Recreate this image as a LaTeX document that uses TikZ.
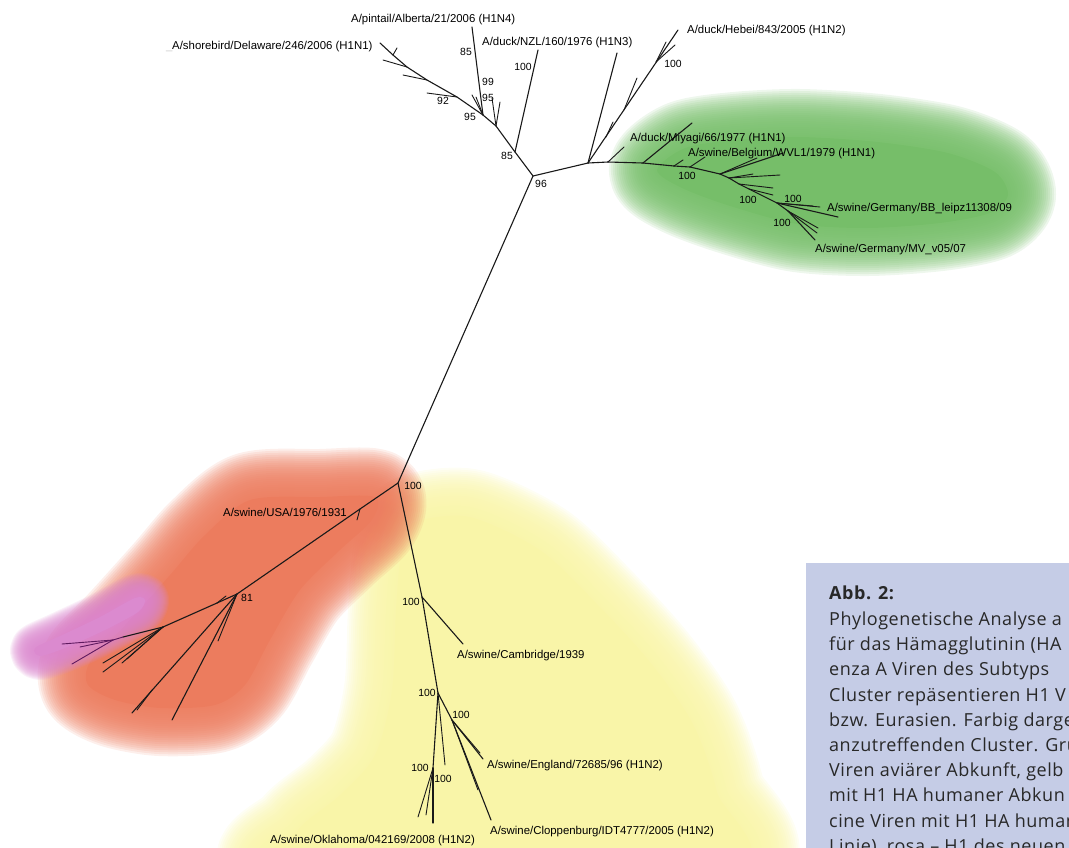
\documentclass[tikz,border=0pt]{standalone}
\usepackage{fontspec}
\setmainfont{Liberation Sans}
\newfontfamily\capfont[LetterSpace=3]{Open Sans}
\usepackage{tikz}

\definecolor{avian}{RGB}{118,190,105}
\definecolor{classical}{RGB}{236,124,94}
\definecolor{pandemic}{RGB}{219,138,207}
\definecolor{humanlike}{RGB}{249,245,168}
\definecolor{capbox}{RGB}{197,204,230}
\definecolor{captext}{RGB}{40,40,40}
\definecolor{pinktwig}{RGB}{95,25,95}

% soft edged colour cloud behind a cluster, #1 = width of the blur step
\newcommand{\softblob}[3][4]{%
  \foreach \w in {24,23,...,1}
    \draw[#2,line width=#1*\w pt,opacity=0.12,line join=round] plot[smooth cycle] coordinates {#3};
  \fill[#2] plot[smooth cycle] coordinates {#3};}

\begin{document}
\begin{tikzpicture}[x=1pt,y=-1pt,branch/.style={line width=1.1pt,draw=black!90,line cap=round},twig/.style={line width=0.9pt,draw=black!90,line cap=round},purpletwig/.style={line width=0.9pt,draw=pinktwig,line cap=round},strain/.style={anchor=base west,inner sep=0pt,font=\fontsize{11.4}{13}\selectfont},boot/.style={inner sep=0pt,font=\fontsize{10.4}{12}\selectfont},capline/.style={anchor=base west,inner sep=0pt,text=captext,font=\capfont\fontsize{18}{22}\selectfont}]
\useasboundingbox (0,0) rectangle (1069,847);
\clip (0,0) rectangle (1069,847);

% clusters
\softblob{humanlike}{(415,522) (470,517) (540,550) (596,603) (650,662) (693,724) (717,792) (727,870) (290,870) (298,830) (340,795) (375,755) (392,690) (396,610) (402,545)}
\softblob{classical}{(250,500) (320,497) (375,497) (372,520) (340,550) (300,590) (270,640) (245,685) (215,705) (160,708) (115,700) (88,685) (90,662) (125,625) (170,575) (205,535)}
\softblob[2]{pandemic}{(35,648) (60,636) (100,617) (135,598) (145,600) (138,612) (105,630) (65,648) (40,656)}
\softblob{avian}{(657,170) (685,148) (735,140) (800,137) (878,142) (948,153) (995,172) (1008,195) (990,213) (940,223) (868,228) (797,224) (730,206) (682,188)}

% inner nodes
\coordinate (root) at (533,176);
\coordinate (a85) at (515,152);
\coordinate (a2) at (496,126);
\coordinate (a95) at (483,115);
\coordinate (a92) at (457,97);
\coordinate (a4) at (427,80);
\coordinate (a5) at (407,67);
\coordinate (a6) at (393,55);
\coordinate (q) at (588,163);
\coordinate (hb1) at (656,62);
\coordinate (hb2) at (624,110);
\coordinate (hb3) at (606,137);
\coordinate (gq) at (608,162);
\coordinate (g1) at (643,163);
\coordinate (gt) at (674,166);
\coordinate (g2) at (690,167);
\coordinate (g3) at (720,174);
\coordinate (g3b) at (729,178);
\coordinate (g3c) at (739,184);
\coordinate (g3d) at (749,189);
\coordinate (g4) at (777,203);
\coordinate (g5) at (788,211);
\coordinate (swn) at (398,483);
\coordinate (c1) at (360,509);
\coordinate (c81) at (237,594);
\coordinate (c2) at (217,603);
\coordinate (c3) at (163,627);
\coordinate (p0) at (123,637);
\coordinate (p1) at (113,640);
\coordinate (l1m) at (152,690);
\coordinate (y1) at (422,597);
\coordinate (y2) at (438,693);
\coordinate (y3) at (452,720);
\coordinate (y4) at (433,768);

% tips
\coordinate (shore) at (380,43);
\coordinate (pintail) at (472,27);
\coordinate (nzl) at (538,50);
\coordinate (t1) at (383,60);
\coordinate (t2) at (403,75);
\coordinate (t3) at (427,93);
\coordinate (t4) at (397,48);
\coordinate (t5) at (472,95);
\coordinate (t6) at (476,97);
\coordinate (t7) at (492,98);
\coordinate (t8) at (500,102);
\coordinate (hebei) at (678,30);
\coordinate (h1) at (675,45);
\coordinate (h2) at (666,42);
\coordinate (h3) at (637,78);
\coordinate (h4) at (613,122);
\coordinate (lone) at (617,53);
\coordinate (miyagi) at (692,123);
\coordinate (m1) at (624,147);
\coordinate (m2) at (683,160);
\coordinate (m3) at (705,157);
\coordinate (belgium) at (783,153);
\coordinate (e1) at (757,158);
\coordinate (e2) at (780,175);
\coordinate (e3) at (753,174);
\coordinate (e4) at (773,188);
\coordinate (e5) at (773,195);
\coordinate (bb) at (838,217);
\coordinate (b1) at (820,207);
\coordinate (b2) at (813,206);
\coordinate (mv) at (815,240);
\coordinate (v1) at (818,228);
\coordinate (v2) at (817,233);
\coordinate (usa1) at (357,520);
\coordinate (o1) at (226,596);
\coordinate (f1) at (103,663);
\coordinate (f2) at (103,672);
\coordinate (f3) at (122,663);
\coordinate (f4) at (127,659);
\coordinate (k1) at (62,644);
\coordinate (k2) at (80,647);
\coordinate (k3) at (72,664);
\coordinate (l1) at (132,713);
\coordinate (l2) at (172,720);
\coordinate (l3) at (218,641);
\coordinate (l4) at (137,710);
\coordinate (cambridge) at (463,644);
\coordinate (england) at (483,759);
\coordinate (n1) at (480,753);
\coordinate (clop) at (491,820);
\coordinate (n2) at (478,790);
\coordinate (n3) at (445,765);
\coordinate (okla) at (433,823);
\coordinate (n4) at (418,817);
\coordinate (n5) at (426,815);

% avian backbone, upper left
\draw[branch] (root) -- (a85);
\draw[branch] (a85) -- (a2);
\draw[branch] (a2) -- (a95);
\draw[branch] (a95) -- (a92);
\draw[branch] (a92) -- (a4);
\draw[branch] (a4) -- (a5);
\draw[branch] (a5) -- (a6);
\draw[branch] (a6) -- (shore);
\draw[branch] (a95) -- (pintail);
\draw[branch] (a85) -- (nzl);
\draw[twig] (a5) -- (t1);
\draw[twig] (a4) -- (t2);
\draw[twig] (a92) -- (t3);
\draw[twig] (a6) -- (t4);
\draw[twig] (a95) -- (t5);
\draw[twig] (a95) -- (t6);
\draw[twig] (a2) -- (t7);
\draw[twig] (a2) -- (t8);

% avian, upper right and green cluster
\draw[branch] (root) -- (q);
\draw[branch] (q) -- (hebei);
\draw[twig] (hb1) -- (h1);
\draw[twig] (hb1) -- (h2);
\draw[twig] (hb2) -- (h3);
\draw[twig] (hb3) -- (h4);
\draw[branch] (q) -- (lone);
\draw[branch] (q) -- (gq);
\draw[branch] (gq) -- (g1);
\draw[branch] (g1) -- (gt);
\draw[branch] (gt) -- (g2);
\draw[branch] (g2) -- (g3);
\draw[branch] (g3) -- (g3b);
\draw[branch] (g3b) -- (g3c);
\draw[branch] (g3c) -- (g3d);
\draw[branch] (g3d) -- (g4);
\draw[twig] (gq) -- (m1);
\draw[branch] (g1) -- (miyagi);
\draw[twig] (gt) -- (m2);
\draw[twig] (g2) -- (m3);
\draw[branch] (g3) -- (belgium);
\draw[twig] (g3) -- (e1);
\draw[twig] (g3b) -- (e2);
\draw[twig] (g3b) -- (e3);
\draw[twig] (g3c) -- (e4);
\draw[twig] (g3d) -- (e5);
\draw[branch] (g4) -- (bb);
\draw[twig] (g4) -- (b1);
\draw[twig] (g4) -- (b2);
\draw[branch] (g4) -- (g5);
\draw[branch] (g5) -- (mv);
\draw[twig] (g5) -- (v1);
\draw[twig] (g5) -- (v2);

% long branch to the swine clusters
\draw[branch] (root) -- (swn);

% classical swine, red and pink
\draw[branch] (swn) -- (c1);
\draw[branch] (c1) -- (c81);
\draw[twig] (c1) -- (usa1);
\draw[branch] (c81) -- (c2);
\draw[branch] (c2) -- (c3);
\draw[twig] (c2) -- (o1);
\draw[twig] (c3) -- (f1);
\draw[twig] (c3) -- (f2);
\draw[twig] (c3) -- (f3);
\draw[twig] (c3) -- (f4);
\draw[branch] (c3) -- (p0);
\draw[purpletwig] (p0) -- (p1);
\draw[purpletwig] (p1) -- (k1);
\draw[purpletwig] (p1) -- (k2);
\draw[purpletwig] (p1) -- (k3);
\draw[branch] (c81) -- (l1);
\draw[branch] (c81) -- (l2);
\draw[twig] (c81) -- (l3);
\draw[twig] (l1m) -- (l4);

% human-like swine, yellow
\draw[branch] (swn) -- (y1);
\draw[branch] (y1) -- (cambridge);
\draw[branch] (y1) -- (y2);
\draw[branch] (y2) -- (y3);
\draw[branch] (y3) -- (england);
\draw[twig] (y3) -- (n1);
\draw[branch] (y3) -- (clop);
\draw[twig] (y3) -- (n2);
\draw[twig] (y2) -- (n3);
\draw[branch] (y2) -- (y4);
\draw[branch] (y4) -- (okla);
\draw[twig] (y4) -- (n4);
\draw[twig] (y4) -- (n5);

% strain names
\node[strain,text=black!20] (smudge) at (166,49) {\_};
\node[strain] (lshore) at (172,49) {A/shorebird/Delaware/246/2006 (H1N1)};
\node[strain] (lpintail) at (351,22) {A/pintail/Alberta/21/2006 (H1N4)};
\node[strain] (lnzl) at (482,45) {A/duck/NZL/160/1976 (H1N3)};
\node[strain] (lhebei) at (687,33) {A/duck/Hebei/843/2005 (H1N2)};
\node[strain] (lmiyagi) at (630,141) {A/duck/Miyagi/66/1977 (H1N1)};
\node[strain] (lbelgium) at (688,156) {A/swine/Belgium/WVL1/1979 (H1N1)};
\node[strain] (lbb) at (827,211) {A/swine/Germany/BB\_leipz11308/09};
\node[strain] (lmv) at (815,252) {A/swine/Germany/MV\_v05/07};
\node[strain] (lusa) at (223,516) {A/swine/USA/1976/1931};
\node[strain] (lcambridge) at (457,658) {A/swine/Cambridge/1939};
\node[strain] (lengland) at (487,768) {A/swine/England/72685/96 (H1N2)};
\node[strain] (lclop) at (490,834) {A/swine/Cloppenburg/IDT4777/2005 (H1N2)};
\node[strain] (lokla) at (270,843) {A/swine/Oklahoma/042169/2008 (H1N2)};

% bootstrap values
\node[boot] (s1) at (466,52) {85};
\node[boot] (s2) at (488,82) {99};
\node[boot] (s3) at (488,98) {95};
\node[boot] (s4) at (470,117) {95};
\node[boot] (s5) at (443,101) {92};
\node[boot] (s6) at (507,156) {85};
\node[boot] (s7) at (523,67) {100};
\node[boot] (s8) at (541,184) {96};
\node[boot] (s9) at (673,64) {100};
\node[boot] (s10) at (687,176) {100};
\node[boot] (s11) at (748,200) {100};
\node[boot] (s12) at (793,199) {100};
\node[boot] (s13) at (782,223) {100};
\node[boot] (s14) at (413,486) {100};
\node[boot] (s15) at (247,598) {81};
\node[boot] (s16) at (411,602) {100};
\node[boot] (s17) at (427,693) {100};
\node[boot] (s18) at (461,715) {100};
\node[boot] (s19) at (420,768) {100};
\node[boot] (s20) at (443,779) {100};

% caption box, lines run off the right edge
\fill[capbox] (806,563) rectangle (1075,855);
\node[capline,font=\capfont\bfseries\fontsize{18}{22}\selectfont] (abb) at (829,599) {Abb. 2:};
\node[capline] (cap1) at (829,625) {Phylogenetische Analyse a};
\node[capline] (cap2) at (829,650) {für das Hämagglutinin (HA};
\node[capline] (cap3) at (829,675) {enza A Viren des Subtyps};
\node[capline] (cap4) at (829,701) {Cluster repäsentieren H1 V};
\node[capline] (cap5) at (829,726) {bzw. Eurasien. Farbig darge};
\node[capline] (cap6) at (829,751) {anzutreffenden Cluster. Grü};
\node[capline] (cap7) at (829,776) {Viren aviärer Abkunft, gelb};
\node[capline] (cap8) at (829,801) {mit H1 HA humaner Abkun};
\node[capline] (cap9) at (829,827) {cine Viren mit H1 HA human};
\node[capline] (cap10) at (829,852) {Linie), rosa – H1 des neuen};
\end{tikzpicture}
\end{document}
